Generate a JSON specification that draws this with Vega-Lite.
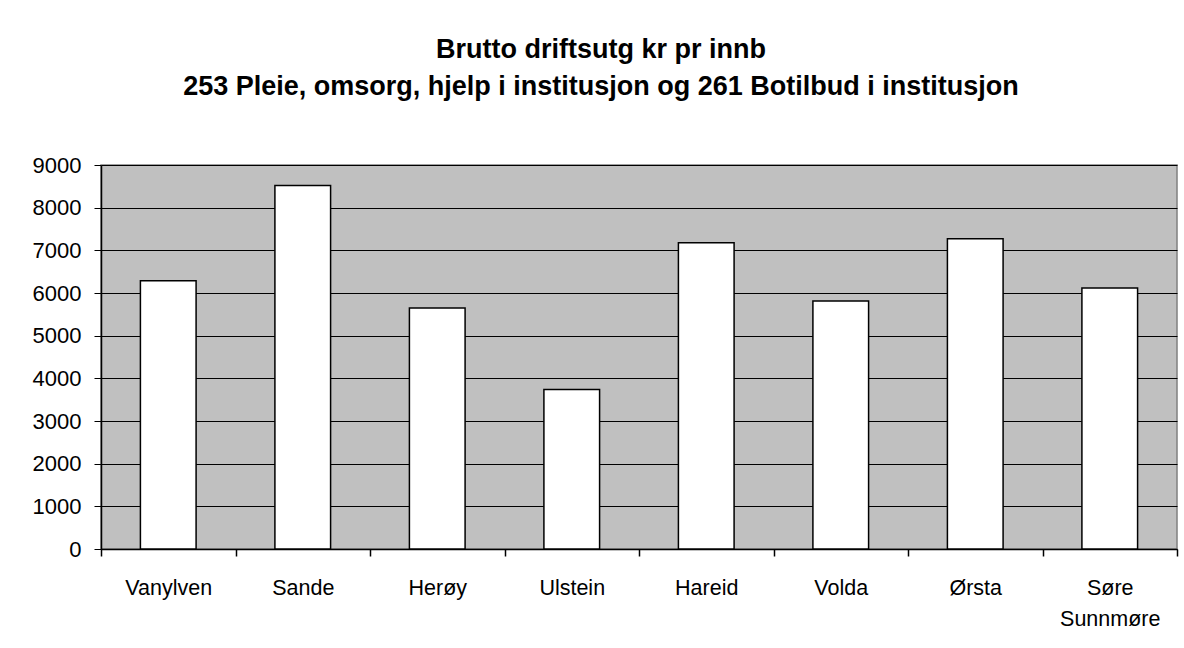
{
  "$schema": "https://vega.github.io/schema/vega-lite/v6.json",
  "autosize": {"type": "none"},
  "width": 1076,
  "height": 384,
  "padding": {"left": 101, "top": 165, "right": 7, "bottom": 99},
  "background": "white",
  "title": {
    "text": ["Brutto driftsutg kr pr innb", "253 Pleie, omsorg, hjelp i institusjon og 261 Botilbud i institusjon"],
    "font": "Liberation Sans",
    "fontSize": 27,
    "fontWeight": "bold",
    "color": "black",
    "lineHeight": 37,
    "anchor": "middle",
    "dx": -38,
    "offset": 53
  },
  "data": {
    "values": [
      {"kommune": "Vanylven", "verdi": 6290},
      {"kommune": "Sande", "verdi": 8520},
      {"kommune": "Herøy", "verdi": 5650},
      {"kommune": "Ulstein", "verdi": 3740},
      {"kommune": "Hareid", "verdi": 7180},
      {"kommune": "Volda", "verdi": 5810},
      {"kommune": "Ørsta", "verdi": 7270},
      {"kommune": "Søre Sunnmøre", "verdi": 6120}
    ]
  },
  "mark": {"type": "bar", "fill": "white", "stroke": "black", "strokeWidth": 1.5, "width": {"band": 0.414}},
  "encoding": {
    "x": {
      "field": "kommune",
      "type": "nominal",
      "sort": null,
      "title": null,
      "scale": {"paddingInner": 0, "paddingOuter": 0},
      "axis": {
        "labelAngle": 0,
        "ticks": true,
        "tickBand": "extent",
        "domainColor": "black",
        "domainWidth": 1.5,
        "tickColor": "black",
        "tickWidth": 1.5,
        "tickSize": 7,
        "labelPadding": 21,
        "labelFont": "Liberation Sans",
        "labelFontSize": 21.5,
        "labelColor": "black",
        "labelLineHeight": 31.5,
        "labelExpr": "datum.label == 'Søre Sunnmøre' ? ['Søre', 'Sunnmøre'] : datum.label"
      }
    },
    "y": {
      "field": "verdi",
      "type": "quantitative",
      "title": null,
      "scale": {"domain": [0, 9000], "nice": false},
      "axis": {
        "values": [0, 1000, 2000, 3000, 4000, 5000, 6000, 7000, 8000, 9000],
        "format": "d",
        "grid": true,
        "gridColor": "black",
        "gridWidth": 1,
        "domainColor": "black",
        "domainWidth": 1.5,
        "tickColor": "black",
        "tickSize": 7,
        "labelPadding": 13,
        "labelFont": "Liberation Sans",
        "labelFontSize": 22,
        "labelColor": "black"
      }
    }
  },
  "config": {
    "view": {"fill": "#C0C0C0", "stroke": "#808080", "strokeWidth": 1.5}
  }
}
